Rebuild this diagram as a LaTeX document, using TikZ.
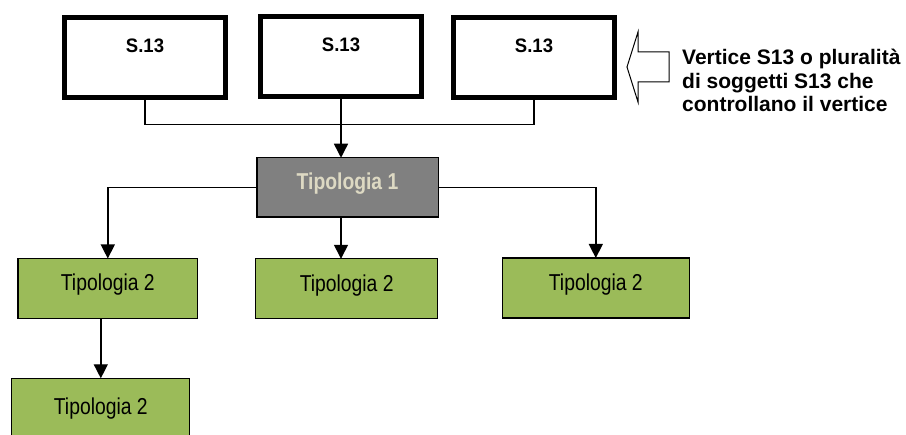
\documentclass[tikz,border=0pt]{standalone}
\usepackage{fontspec}
\setmainfont{Liberation Sans}
\newfontfamily\narrowfont{Liberation Sans}[FakeStretch=0.84]
\newfontfamily\sfnarrow{Liberation Sans}[FakeStretch=0.95]
\usetikzlibrary{arrows.meta}
\definecolor{tgreen}{HTML}{9BBB59}
\definecolor{tgray}{HTML}{808080}
\definecolor{tbeige}{HTML}{DDD9C3}
\begin{document}
\begin{tikzpicture}[x=1pt,y=-1pt,
  topbox/.style={draw=black, line width=5pt, minimum width=161pt, minimum height=80pt,
    inner sep=0pt, outer sep=0pt, text height=14pt, text depth=23pt,
    font=\sfnarrow\bfseries\fontsize{19.5}{22}\selectfont},
  grbox/.style={draw=black, line width=1.3pt, fill=tgreen, inner sep=0pt, outer sep=0pt,
    minimum height=60pt, text height=12pt, text depth=7pt,
    font=\narrowfont\fontsize{23}{26}\selectfont},
  graybox/.style={draw=black, line width=1.5pt, fill=tgray, text=tbeige, inner sep=0pt, outer sep=0pt,
    minimum height=59.5pt, text height=12pt, text depth=7pt,
    font=\narrowfont\bfseries\fontsize{23}{26}\selectfont},
  conn/.style={line width=1.4pt},
  arr/.style={conn, -{Triangle[width=14pt,length=14pt]}}]
\useasboundingbox (0,0) rectangle (906,435);

\node[topbox] (s1) at (145,57.5) {S.13};
\node[topbox] (s2) at (341,56.5) {S.13};
\node[topbox] (s3) at (534,57.5) {S.13};

\node[graybox, minimum width=181.5pt] (t1) at (347.5,187.5) {Tipologia 1};

\node[grbox, minimum width=179.5pt] (l) at (107.8,288.5) {Tipologia 2};
\node[grbox, minimum width=181.8pt] (m) at (346.7,288.8) {Tipologia 2};
\node[grbox, minimum width=186.8pt] (r) at (595.8,288) {Tipologia 2};
\node[grbox, minimum width=178pt, minimum height=68pt] (b) at (100.8,412.3) {Tipologia 2};

\coordinate (j) at (341,124.3);
\draw[conn] (s1.south) |- (j) -| (s3.south);
\draw[arr] (s2.south) -- (s2.south |- t1.north);
\draw[arr] (t1.west) -| (l.north);
\draw[arr] (t1.east) -| (r.north);
\draw[arr] (s2.south |- t1.south) -- (s2.south |- m.north);
\draw[arr] (b.north |- l.south) -- (b.north);

\draw[line width=1pt, line join=miter] (627,67) -- (638,32) -- (638,52) -- (669,52) -- (669,82) -- (638,82) -- (638,102) -- cycle;

\node[anchor=base west, align=left, inner sep=0pt,
  font=\bfseries\fontsize{21}{23.5}\selectfont] (lbl) at (682,112)
  {Vertice S13 o pluralità\\di soggetti S13 che\\controllano il vertice};
\end{tikzpicture}
\end{document}
